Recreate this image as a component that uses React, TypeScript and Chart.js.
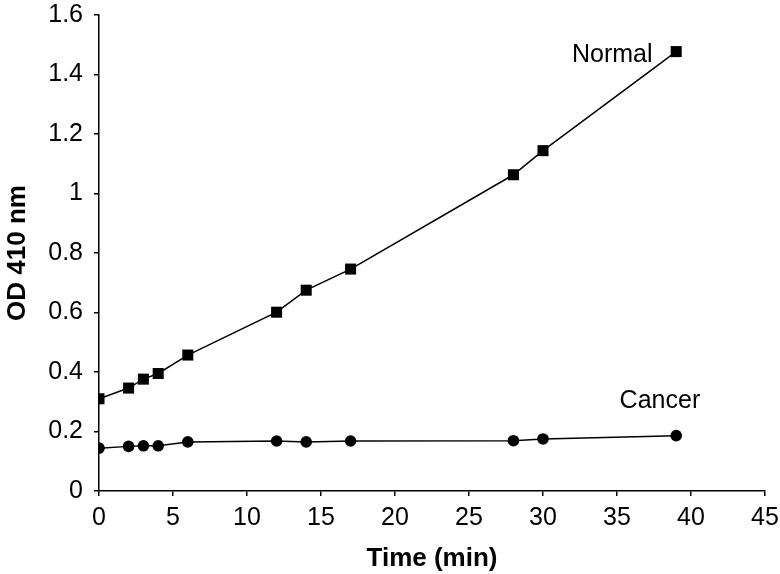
import React, { useEffect, useRef } from "react";
import { Chart, registerables } from "chart.js";

Chart.register(...registerables);

const timeMin = [0, 2, 3, 4, 6, 12, 14, 17, 28, 30, 39];
const normalOD = [0.31, 0.346, 0.376, 0.395, 0.457, 0.601, 0.675, 0.746, 1.063, 1.144, 1.477];
const cancerOD = [0.144, 0.15, 0.152, 0.152, 0.165, 0.168, 0.165, 0.168, 0.169, 0.175, 0.186];
const xTicks = [0, 5, 10, 15, 20, 25, 30, 35, 40, 45];
const yTicks = [0, 0.2, 0.4, 0.6, 0.8, 1, 1.2, 1.4, 1.6];
const seriesNames = ["Normal", "Cancer"];
const labelX = [37.4, 37.9];
const labelY = [1.466, 0.303];
const labelAlign: CanvasTextAlign[] = ["right", "center"];

const FONT = "'Liberation Sans', Arial, Helvetica, sans-serif";

const seriesLabels = {
  id: "seriesLabels",
  afterDatasetsDraw(chart: any) {
    const { ctx, scales } = chart;
    ctx.save();
    ctx.fillStyle = "#000";
    ctx.font = `25px ${FONT}`;
    ctx.textBaseline = "middle";
    seriesNames.forEach((name, i) => {
      ctx.textAlign = labelAlign[i];
      ctx.fillText(name, scales.x.getPixelForValue(labelX[i]), scales.y.getPixelForValue(labelY[i]));
    });
    ctx.restore();
  },
};

export default function App() {
  const ref = useRef<HTMLCanvasElement>(null);
  useEffect(() => {
    const chart = new Chart(ref.current!, {
      type: "line",
      data: {
        datasets: [
          {
            label: seriesNames[0],
            data: timeMin.map((t, i) => ({ x: t, y: normalOD[i] })),
            borderColor: "#000",
            backgroundColor: "#000",
            borderWidth: 1.5,
            pointStyle: "rect",
            pointRadius: 7.8,
            pointBorderWidth: 0,
          },
          {
            label: seriesNames[1],
            data: timeMin.map((t, i) => ({ x: t, y: cancerOD[i] })),
            borderColor: "#000",
            backgroundColor: "#000",
            borderWidth: 1.5,
            pointStyle: "circle",
            pointRadius: 5.8,
            pointBorderWidth: 0,
          },
        ],
      },
      options: {
        animation: false,
        responsive: false,
        layout: { padding: { top: 15, right: 15, left: 0, bottom: 0 } },
        plugins: { legend: { display: false }, tooltip: { enabled: false } },
        scales: {
          x: {
            type: "linear",
            min: 0,
            max: 45,
            afterBuildTicks: (s: any) => {
              s.ticks = xTicks.map((v) => ({ value: v }));
            },
            afterFit: (s: any) => {
              s.height = 83;
              s.paddingLeft = 0;
              s.paddingRight = 0;
            },
            grid: { drawOnChartArea: false, drawTicks: true, tickLength: 5, color: "#000", lineWidth: 1.5 },
            border: { display: true, color: "#000", width: 1.5 },
            ticks: {
              color: "#000",
              font: { family: FONT, size: 25 },
              padding: 7,
              maxRotation: 0,
              autoSkip: false,
              callback: (v: any) => String(v),
            },
            title: {
              display: true,
              text: "Time (min)",
              color: "#000",
              font: { family: FONT, size: 26, weight: "bold" },
              padding: { top: 3, bottom: 0 },
            },
          },
          y: {
            type: "linear",
            min: 0,
            max: 1.6,
            afterBuildTicks: (s: any) => {
              s.ticks = yTicks.map((v) => ({ value: v }));
            },
            afterFit: (s: any) => {
              s.width = 99;
              s.paddingTop = 0;
              s.paddingBottom = 0;
            },
            grid: { drawOnChartArea: false, drawTicks: true, tickLength: 5, color: "#000", lineWidth: 1.5 },
            border: { display: true, color: "#000", width: 1.5 },
            ticks: {
              color: "#000",
              font: { family: FONT, size: 25 },
              padding: 11,
              autoSkip: false,
              callback: (v: any) => String(v),
            },
            title: {
              display: true,
              text: "OD 410 nm",
              color: "#000",
              font: { family: FONT, size: 26, weight: "bold" },
              padding: { top: 2, bottom: 0 },
            },
          },
        },
      },
      plugins: [seriesLabels],
    } as any);
    return () => chart.destroy();
  }, []);
  return (
    <div style={{ position: "fixed", left: 0, top: 0, width: 780, height: 574, background: "#fff" }}>
      <canvas ref={ref} width={780} height={574} style={{ display: "block" }} />
    </div>
  );
}
